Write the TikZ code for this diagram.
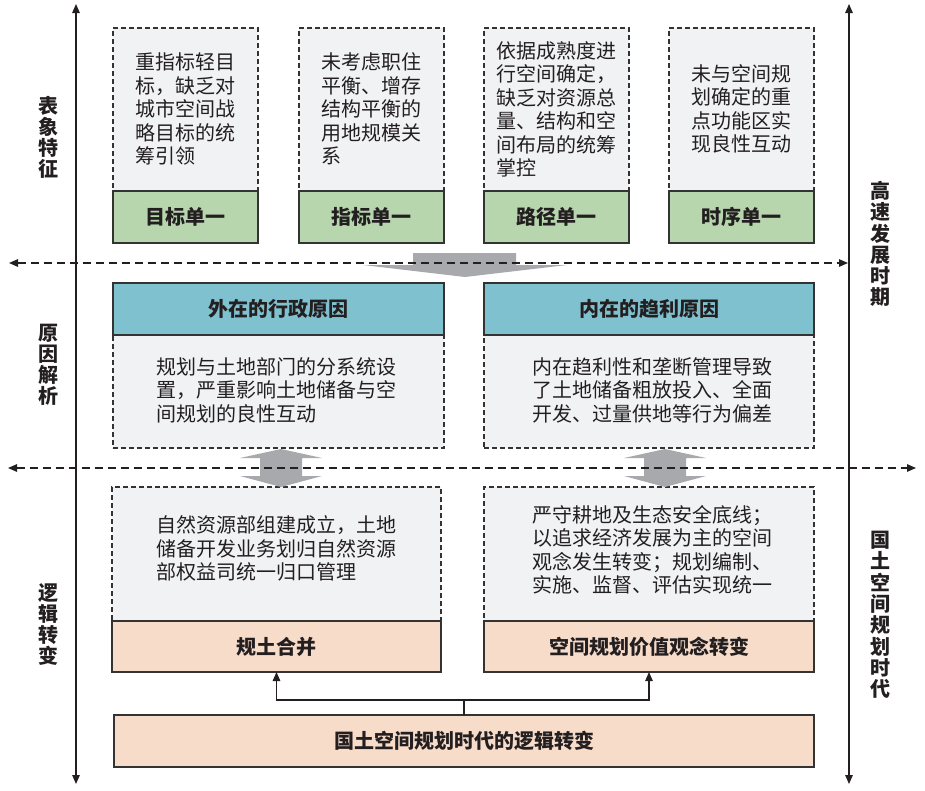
\documentclass[tikz,border=0pt]{standalone}
\usepackage{fontspec}
\setmainfont{Noto Sans CJK SC}
\usetikzlibrary{arrows.meta}
\definecolor{lineC}{HTML}{333333}
\definecolor{boxF}{HTML}{F1F2F4}
\definecolor{greenC}{HTML}{B7D6AE}
\definecolor{blueC}{HTML}{80C1CF}
\definecolor{peachC}{HTML}{F8DCCA}
\definecolor{txtC}{HTML}{231F20}
\definecolor{grayA}{HTML}{A7A9AC}
\newcommand\myBody{\fontsize{20}{23.5}\selectfont}
\newcommand\myHead{\fontsize{20}{24}\selectfont\bfseries}
\newcommand\mySide{\fontsize{20}{21}\selectfont\bfseries}
\newcommand\mySideR{\fontsize{20}{21.3}\selectfont\bfseries}
\begin{document}
\begin{tikzpicture}[x=1pt,y=-1pt,
  dbox/.style={draw=lineC, line width=1.2pt, dash pattern=on 5pt off 3pt, fill=boxF, inner sep=0pt, outer sep=0pt, anchor=north west},
  band/.style={draw=lineC, line width=1.2pt, inner sep=0pt, outer sep=0pt, anchor=north west, text=txtC, font=\myHead},
  body/.style={inner sep=0pt, align=left, text=txtC, font=\myBody},
  side/.style={inner sep=0pt, align=center, text=txtC, font=\mySide},
  sider/.style={inner sep=0pt, align=center, text=txtC, font=\mySideR},
  tipA/.tip={Triangle[length=9pt,width=7.5pt]},
  axisline/.style={line width=1.3pt, draw=txtC, tipA-tipA},
  hdash/.style={line width=1.3pt, draw=txtC, dash pattern=on 8pt off 5pt, tipA-tipA},
  conn/.style={line width=1.2pt, draw=txtC, -tipA},
  garrow/.style={fill=grayA, draw=none}
]
\useasboundingbox (0,0) rectangle (925,790);

% ---- top row: dashed boxes + green bands
\node[dbox, minimum width=145pt, minimum height=163pt] (t1) at (113,28) {};
\node[dbox, minimum width=145pt, minimum height=163pt] (t2) at (299,28) {};
\node[dbox, minimum width=145pt, minimum height=163pt] (t3) at (484,28) {};
\node[dbox, minimum width=145pt, minimum height=163pt] (t4) at (669,28) {};
\node[band, fill=greenC, minimum width=145pt, minimum height=52pt] (g1) at (113,191) {目标单一};
\node[band, fill=greenC, minimum width=145pt, minimum height=52pt] (g2) at (299,191) {指标单一};
\node[band, fill=greenC, minimum width=145pt, minimum height=52pt] (g3) at (484,191) {路径单一};
\node[band, fill=greenC, minimum width=145pt, minimum height=52pt] (g4) at (669,191) {时序单一};
\node[body] (tx1) at (185.5,109) {重指标轻目\\标，缺乏对\\城市空间战\\略目标的统\\筹引领};
\node[body] (tx2) at (371.5,109) {未考虑职住\\平衡、增存\\结构平衡的\\用地规模关\\系};
\node[body] (tx3) at (556.5,109.5) {依据成熟度进\\行空间确定，\\缺乏对资源总\\量、结构和空\\间布局的统筹\\掌控};
\node[body] (tx4) at (741.5,109) {未与空间规\\划确定的重\\点功能区实\\现良性互动};

% ---- middle row
\node[dbox, minimum width=331pt, minimum height=165pt] (m1) at (113,283) {};
\node[dbox, minimum width=330pt, minimum height=165pt] (m2) at (484,283) {};
\node[band, fill=blueC, minimum width=331pt, minimum height=52pt] (b1) at (113,283) {外在的行政原因};
\node[band, fill=blueC, minimum width=330pt, minimum height=52pt] (b2) at (484,283) {内在的趋利原因};
\node[body] (mx1) at (276,390) {规划与土地部门的分系统设\\置，严重影响土地储备与空\\间规划的良性互动};
\node[body] (mx2) at (652,390) {内在趋利性和垄断管理导致\\了土地储备粗放投入、全面\\开发、过量供地等行为偏差};

% ---- bottom row
\node[dbox, minimum width=329pt, minimum height=134pt] (d1) at (112,487) {};
\node[dbox, minimum width=330pt, minimum height=134pt] (d2) at (484,487) {};
\node[band, fill=peachC, minimum width=329pt, minimum height=51pt] (p1) at (112,621) {规土合并};
\node[band, fill=peachC, minimum width=330pt, minimum height=51pt] (p2) at (484,621) {空间规划价值观念转变};
\node[body] (dx1) at (276,548.5) {自然资源部组建成立，土地\\储备开发业务划归自然资源\\部权益司统一归口管理};
\node[body] (dx2) at (652,550) {严守耕地及生态安全底线；\\以追求经济发展为主的空间\\观念发生转变；规划编制、\\实施、监督、评估实现统一};

\node[band, fill=peachC, minimum width=700pt, minimum height=52pt] (bb) at (114,715) {国土空间规划时代的逻辑转变};

% ---- connectors from bottom box
\coordinate (j) at (464,700);
\draw[line width=1.2pt, draw=txtC] (bb.north) -- (j);
\draw[conn] (j) -| (p1.south);
\draw[conn] (j) -| (p2.south);

% ---- gray arrows
\path[garrow] (413,253) -- (516,253) -- (516,265) -- (567,265) -- (465,277) -- (363,265) -- (413,265) -- cycle;
\path[garrow] (281,449) -- (322,458) -- (302,458) -- (302,476) -- (322,476) -- (281,487) -- (240,476) -- (260,476) -- (260,458) -- (240,458) -- cycle;
\path[garrow] (665,449) -- (706,458) -- (686,458) -- (686,476) -- (706,476) -- (665,487) -- (624,476) -- (644,476) -- (644,458) -- (624,458) -- cycle;

% ---- dashed horizontal separators
\coordinate (h1a) at (9,263);
\coordinate (h1b) at (848,263);
\coordinate (h2a) at (8,468);
\coordinate (h2b) at (916,468);
\draw[hdash] (h1a) -- (h1b);
\draw[hdash] (h2a) -- (h2b);

% ---- axes
\coordinate (la1) at (76,4);
\coordinate (la2) at (76,784);
\coordinate (ra1) at (849,4);
\coordinate (ra2) at (849,784);
\draw[axisline] (la1) -- (la2);
\draw[axisline] (ra1) -- (ra2);

% ---- side labels
\node[side] (s1) at (48,137) {表\\象\\特\\征};
\node[side] (s2) at (48,365) {原\\因\\解\\析};
\node[side] (s3) at (48,625) {逻\\辑\\转\\变};
\node[sider] (s4) at (880,244) {高\\速\\发\\展\\时\\期};
\node[sider] (s5) at (880,615) {国\\土\\空\\间\\规\\划\\时\\代};
\end{tikzpicture}
\end{document}
